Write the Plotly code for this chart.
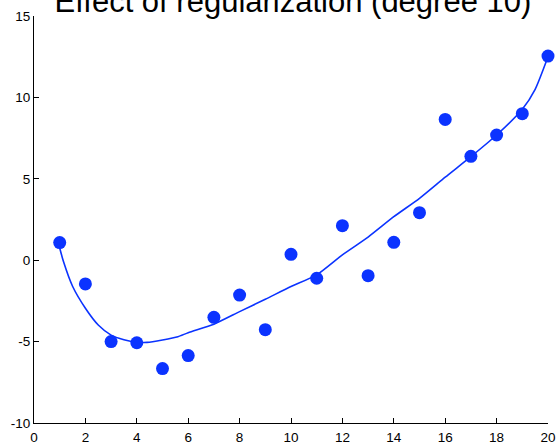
import plotly.graph_objects as go

# Observed samples
x_obs = list(range(1, 21))
y_obs = [1.08, -1.46, -5.0, -5.07, -6.66, -5.86, -3.51, -2.14, -4.27, 0.36,
         -1.11, 2.12, -0.95, 1.10, 2.92, 8.65, 6.38, 7.69, 9.0, 12.54]

# Regularized degree-10 fit, sampled along x
x_fit = [1.0, 1.15, 1.5, 2.0, 2.5, 3.0, 3.5, 4.0, 4.4, 5.0, 5.6, 6.0, 7.0, 8.0,
         9.0, 10.0, 11.0, 12.0, 13.0, 14.0, 15.0, 16.0, 17.0, 18.0, 19.0, 19.5, 20.0]
y_fit = [0.75, -0.1, -1.6, -2.95, -3.98, -4.6, -4.88, -5.03, -5.05, -4.9, -4.7,
         -4.45, -3.93, -3.16, -2.4, -1.62, -0.9, 0.33, 1.42, 2.67, 3.8, 5.1, 6.36,
         7.69, 9.27, 10.5, 12.5]

x_ticks = [0, 2, 4, 6, 8, 10, 12, 14, 16, 18, 20]
y_ticks = [-10, -5, 0, 5, 10, 15]

BLUE = "#0b33ff"
FONT = "Liberation Sans, Arial, Helvetica, sans-serif"

fig = go.Figure()
fig.add_trace(go.Scatter(
    x=x_fit, y=y_fit, mode="lines",
    line=dict(color=BLUE, width=1.6, shape="spline", smoothing=0.6),
    hoverinfo="skip", showlegend=False,
))
fig.add_trace(go.Scatter(
    x=x_obs, y=y_obs, mode="markers",
    marker=dict(color=BLUE, size=13, line=dict(width=0)),
    showlegend=False, cliponaxis=False,
))

axis_common = dict(
    showgrid=False, zeroline=False, showline=True, linecolor="black",
    linewidth=1.2, ticks="inside", ticklen=5, tickwidth=1, tickcolor="black",
    tickfont=dict(family=FONT, size=13.5, color="black"), mirror=False,
    automargin=False,
)

fig.update_layout(
    width=558, height=447,
    margin=dict(l=34, r=10, t=16, b=24, autoexpand=False),
    paper_bgcolor="white", plot_bgcolor="white",
    font=dict(family=FONT, color="black"),
    title=dict(
        text="Effect of regularization (degree 10)",
        font=dict(family=FONT, size=31, color="black"),
        x=0.525, xanchor="center", xref="container",
        y=0.998, yanchor="middle", yref="container",
    ),
    xaxis=dict(range=[0, 20], tickvals=x_ticks, ticktext=[str(v) for v in x_ticks],
               ticklabelstandoff=2, **axis_common),
    yaxis=dict(range=[-10, 15], tickvals=y_ticks, ticktext=[str(v) for v in y_ticks],
               ticklabelstandoff=0, **axis_common),
)

fig.write_html("out.html")
